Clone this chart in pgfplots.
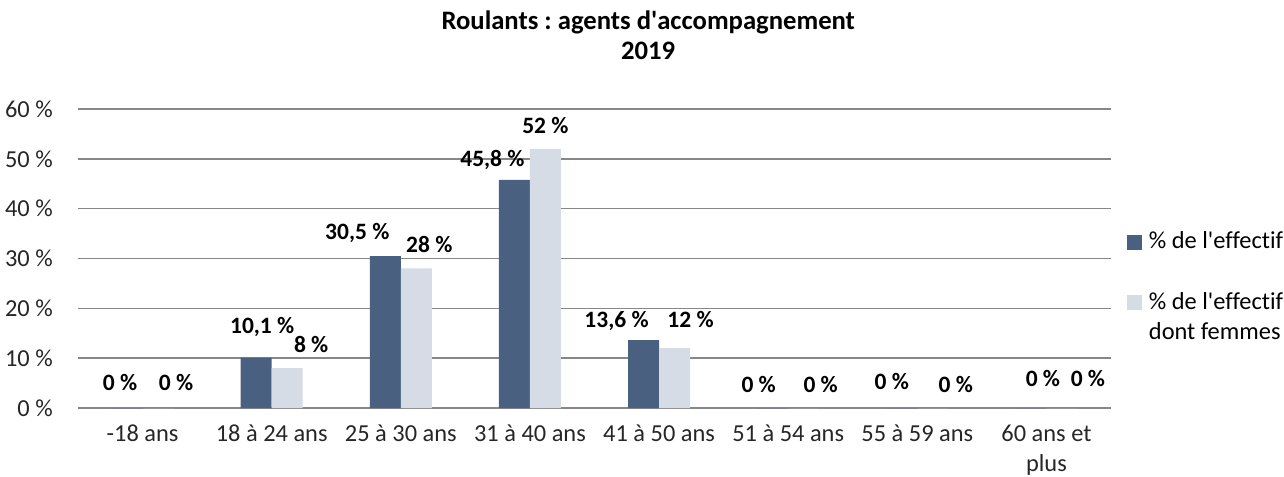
\documentclass[border=0pt]{standalone}
\usepackage{fontspec}
\setmainfont[Ligatures=NoCommon]{Carlito}
\usepackage{pgfplots}
\usepackage{pgfplotstable}
\pgfplotsset{compat=1.18}
\frenchspacing

\definecolor{effectif}{RGB}{74,96,128}
\definecolor{femmes}{RGB}{214,220,229}
\definecolor{grille}{RGB}{135,135,135}

% x = category, y = percent, dx/dy = label offset (pt)
\pgfplotstableread{
x y dx dy
0 0 -5.25 16.5
1 10.1 4.5 21
2 30.5 -21 15.75
3 45.8 -16.5 12.75
4 13.6 -20.25 12.75
5 0 -10.5 15
6 0 -7.5 17.25
7 0 9 19.5
}\effectif

\pgfplotstableread{
x y dx dy
0 0 13.5 16.5
1 8 18 15
2 28 9.75 15
3 52 0 15
4 12 12 18.75
5 0 12.75 15
6 0 17.25 15
7 0 19.5 19.5
}\femmes

\newcommand{\txt}{\fontsize{18.3}{22.5}\selectfont}

\begin{document}
\begin{tikzpicture}
\path[use as bounding box] (-58.5pt,-51pt) rectangle (904.5pt,306pt);
\begin{axis}[
  at={(0pt,0pt)}, anchor=south west,
  scale only axis,
  width=774.75pt, height=224.25pt,
  clip=false,
  ybar=0pt, bar width=23.25pt,
  xmin=-0.5, xmax=7.5,
  ymin=0, ymax=60,
  xtick={0,...,7},
  xticklabels={-18 ans, 18 à 24 ans, 25 à 30 ans, 31 à 40 ans, 41 à 50 ans, 51 à 54 ans, 55 à 59 ans,
    {\begin{tabular}[t]{@{}c@{}}60 ans et\\plus\end{tabular}}},
  ytick={0,10,...,60},
  yticklabel={\pgfmathprintnumber{\tick}~\%},
  /pgf/number format/assume math mode=true,
  major tick length=0pt,
  tick style={draw=none},
  axis line style={draw=none},
  ymajorgrids,
  grid style={grille, line width=1.1pt},
  tick label style={font=\txt, text=black!85},
  yticklabel style={anchor=east, inner sep=0pt, xshift=-18.75pt},
  xticklabel style={anchor=base, inner sep=0pt, yshift=-24.75pt},
  title={Roulants : agents d\textquotesingle accompagnement\\2019},
  title style={at={(rel axis cs:0.552,1.221)}, anchor=center, align=center,
    font=\bfseries\fontsize{20}{22.5}\selectfont},
  nodes near coords={\pgfmathprintnumber[fixed, use comma, precision=1]{\pgfplotspointmeta}~\%},
  nodes near coords style={font=\bfseries\fontsize{17.6}{22.5}\selectfont, anchor=center, inner sep=0pt,
    text height=0.63em, text depth=0pt, xshift=\dx pt, yshift=\dy pt},
  visualization depends on={\thisrow{dx} \as \dx},
  visualization depends on={\thisrow{dy} \as \dy},
  legend style={at={(rel axis cs:1.0155,0.612)}, anchor=north west,
    draw=none, fill=none, inner sep=0pt, font=\txt,
    row sep=24pt, column sep=3pt,
    cells={anchor=base west}},
  legend image code/.code={\fill[#1] (0pt,-0.6pt) rectangle (11.25pt,10.65pt);},
]
\addplot[fill=effectif, draw=none] table[x=x, y=y] {\effectif};
\addlegendentry{\strut\% de l\textquotesingle effectif}
\addplot[fill=femmes, draw=none] table[x=x, y=y] {\femmes};
\addlegendentry{\begin{tabular}[t]{@{}l@{}}\% de l\textquotesingle effectif\\dont femmes\end{tabular}}
\end{axis}
\end{tikzpicture}
\end{document}
